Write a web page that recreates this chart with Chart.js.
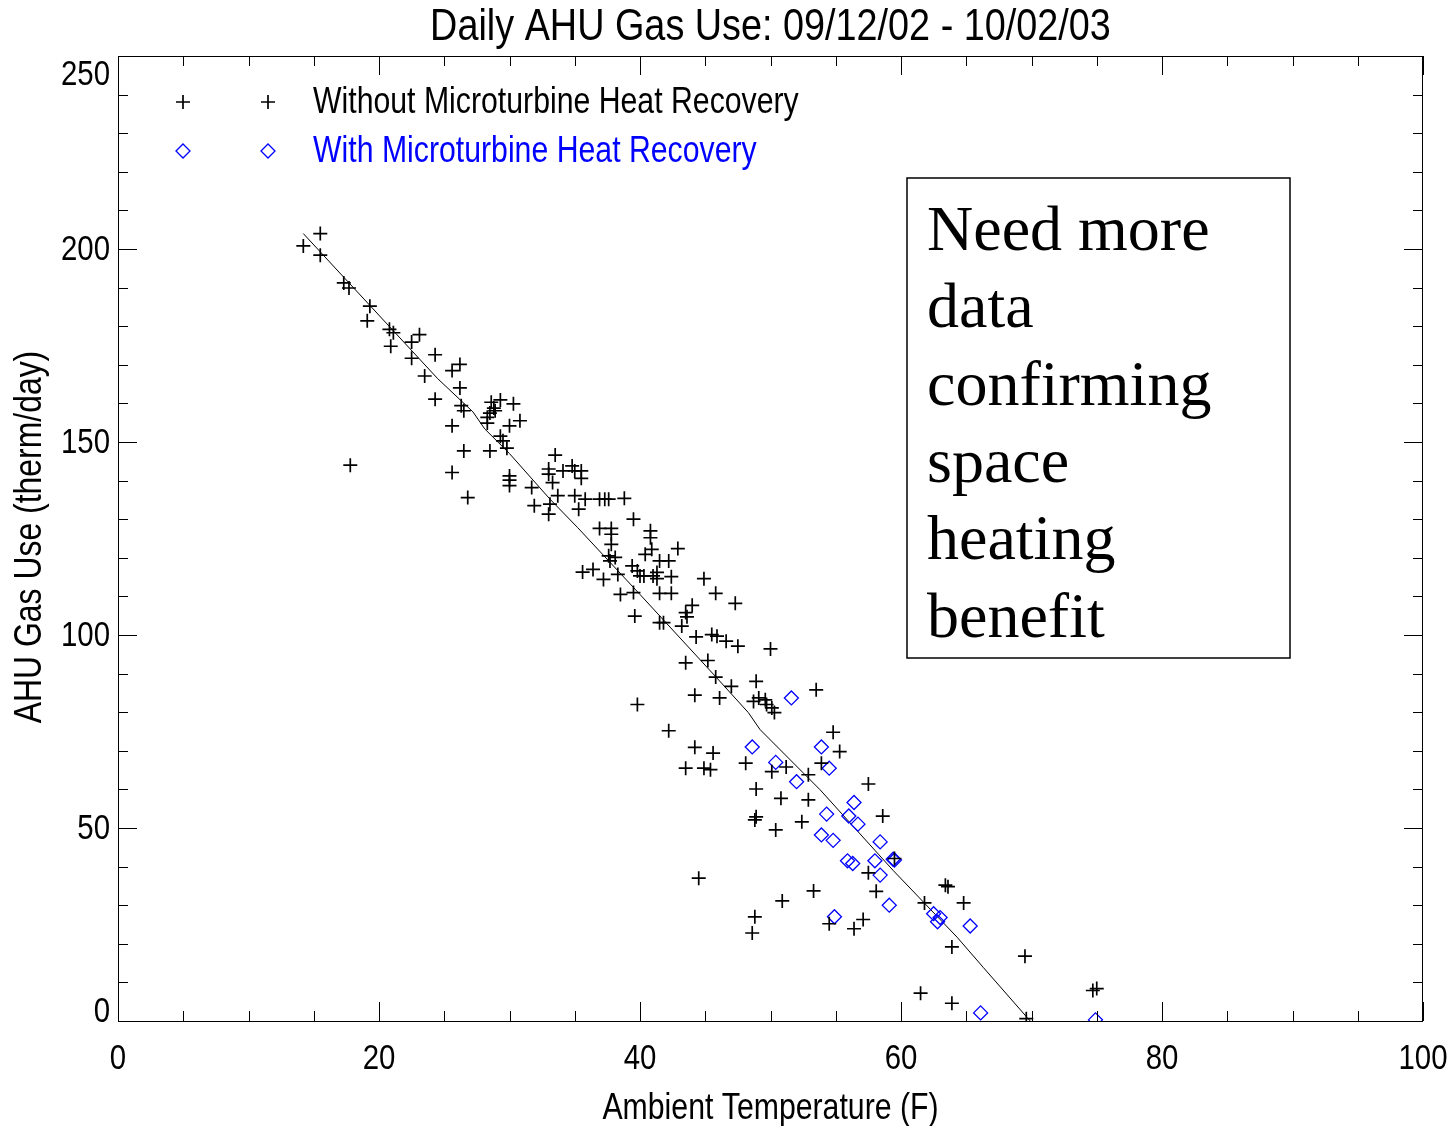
<!DOCTYPE html>
<html>
<head>
<meta charset="utf-8">
<title>Daily AHU Gas Use</title>
<script src="https://cdn.jsdelivr.net/npm/chart.js@4.4.1/dist/chart.umd.min.js"></script>
<style>
  html, body { margin: 0; padding: 0; background: #fff; }
  #wrap { width: 1455px; height: 1126px; }
</style>
</head>
<body>
<div id="wrap"><canvas id="gasChart" width="1455" height="1126"></canvas></div>
<script>
// Without microturbine heat recovery (black +)
const withoutTemp = [14.2, 15.5, 15.5, 17.3, 17.7, 19.3, 19.1, 20.8, 21.1, 20.9, 23.1, 22.5, 22.5, 24.3, 23.5, 25.6, 26.2, 26.2, 24.3, 26.3,
  26.5, 28.6, 29.3, 28.5, 28.9, 28.8, 30.3, 28.3, 28.3, 30.0, 30.8, 29.3, 29.5, 29.8, 25.6, 17.8, 26.5, 28.5, 25.6, 26.8,
  30.0, 30.0, 30.0, 31.7, 33.0, 33.0, 31.9, 33.0, 33.1, 33.5, 33.3, 34.1, 34.8, 35.0, 35.5, 35.5, 33.7, 35.0, 35.8, 35.3,
  36.9, 37.3, 37.6, 38.8, 39.5, 36.9, 37.8, 37.8, 37.8, 40.8, 40.8, 40.9, 40.4, 37.6, 37.7, 38.1, 35.6, 36.4, 37.2, 38.3,
  39.4, 39.8, 40.0, 40.3, 41.0, 38.5, 39.5, 39.6, 42.9, 41.5, 42.2, 41.3, 41.3, 42.4, 44.9, 41.5, 42.4, 45.8, 47.3, 44.0,
  43.5, 43.6, 41.5, 41.8, 43.2, 44.3, 45.5, 45.9, 46.6, 47.5, 50.0, 43.5, 45.2, 45.8, 48.9, 47.0, 44.2, 46.1, 48.7, 49.1,
  49.6, 49.7, 50.1, 50.3, 53.5, 42.2, 44.2, 45.6, 43.5, 44.9, 45.4, 48.1, 50.1, 51.2, 52.9, 48.9, 50.8, 52.9, 48.8, 48.9,
  50.4, 52.4, 44.5, 48.8, 48.6, 50.9, 53.3, 54.8, 55.3, 53.9, 57.5, 58.6, 57.5, 58.1, 59.5, 61.8, 63.4, 63.6, 64.8, 54.5,
  57.1, 56.4, 63.9, 69.5, 61.5, 63.9, 69.6, 74.7, 75.0, 39.8];
const withoutGas = [200.8, 204.0, 198.4, 191.2, 189.9, 185.2, 181.4, 179.2, 178.3, 174.8, 177.8, 175.9, 171.7, 172.6, 167.1, 168.5, 170.1, 164.0, 161.1, 159.4,
  158.1, 160.3, 160.9, 157.5, 158.1, 158.8, 159.9, 156.4, 154.9, 154.2, 155.5, 151.5, 150.3, 148.4, 154.2, 144.0, 147.7, 147.7, 142.1, 135.6,
  141.2, 140.1, 138.7, 138.2, 143.0, 141.7, 133.5, 131.3, 133.9, 146.6, 139.5, 142.5, 143.8, 142.5, 142.5, 140.6, 136.1, 136.1, 135.2, 132.6,
  135.2, 135.2, 135.2, 135.4, 130.0, 127.6, 127.6, 126.1, 123.5, 127.0, 125.2, 122.2, 120.9, 120.5, 119.2, 120.1, 116.3, 117.0, 114.4, 115.7,
  117.9, 116.6, 115.3, 115.3, 115.3, 110.5, 111.0, 104.9, 122.4, 119.2, 119.2, 116.2, 114.6, 115.1, 114.6, 110.8, 110.8, 110.8, 108.2, 107.7,
  105.8, 104.7, 103.2, 103.2, 102.3, 99.5, 100.1, 99.7, 98.4, 97.1, 96.4, 92.8, 93.4, 89.1, 88.0, 86.7, 84.4, 83.7, 82.8, 83.7,
  83.2, 82.0, 81.1, 79.9, 85.8, 75.2, 70.9, 69.4, 65.5, 65.5, 65.1, 66.8, 64.6, 65.8, 63.8, 60.1, 57.7, 57.3, 52.1, 52.9,
  49.5, 51.6, 37.0, 27.0, 22.8, 31.1, 33.7, 74.8, 69.8, 66.8, 61.4, 53.1, 38.4, 33.6, 42.1, 30.6, 35.2, 34.8, 30.6, 25.2,
  26.3, 23.9, 19.2, 16.8, 7.2, 4.6, 0.6, 7.9, 8.4, 82.0];

// With microturbine heat recovery (blue diamonds)
const withTemp = [51.6, 48.6, 50.4, 52.0, 53.9, 54.5, 56.4, 54.3, 56.0, 56.7, 53.9, 54.8, 58.4, 55.9, 56.3, 58.0, 59.4, 59.5,
  58.4, 59.1, 54.9, 62.5, 63.0, 62.8, 65.3, 66.1, 74.9];
const withGas = [83.7, 71.0, 67.0, 62.0, 71.0, 65.5, 56.6, 53.6, 53.1, 51.0, 48.2, 46.8, 46.4, 41.5, 40.8, 41.5, 41.9, 41.7,
  37.8, 30.0, 27.0, 27.8, 26.8, 25.7, 24.6, 2.1, 0.3];

// fitted line
const fitTemp = [14.2, 24.5, 27.2, 28.1, 30.0, 33.1, 35.2, 40.0, 45.8, 48.3, 49.2, 53.8, 59.4, 64.3, 66.3, 69.9];
const fitGas = [204.0, 166.4, 157.8, 153.4, 147.0, 135.2, 127.9, 110.5, 89.2, 79.9, 75.5, 59.9, 39.0, 21.7, 13.9, 0.0];

const xTicks = [0, 20, 40, 60, 80, 100];
const yTicks = [0, 50, 100, 150, 200, 250];
const xMinorStep = 5;
const yMinorStep = 10;

const chartTitle = 'Daily AHU Gas Use: 09/12/02 - 10/02/03';
const xTitle = 'Ambient Temperature (F)';
const yTitle = 'AHU Gas Use (therm/day)';
const seriesNames = ['Without Microturbine Heat Recovery', 'With Microturbine Heat Recovery'];
const noteLines = ['Need more', 'data', 'confirming', 'space', 'heating', 'benefit'];

const SANS = '"Liberation Sans", Arial, sans-serif';
const SERIF = '"Liberation Serif", "Times New Roman", serif';
const SQUEEZE = 0.84; // the original font is a bit narrow

function toPoints(xs, ys) {
    return xs.map((x, i) => ({ x: x, y: ys[i] }));
}

function drawText(ctx, str, x, y, size, align, color, angle) {
    ctx.save();
    ctx.font = size + 'px ' + SANS;
    ctx.fillStyle = color || '#000';
    ctx.textAlign = align;
    ctx.textBaseline = 'middle';
    ctx.translate(x, y);
    if (angle) ctx.rotate(angle);
    ctx.scale(SQUEEZE, 1);
    ctx.fillText(str, 0, 0);
    ctx.restore();
}

// frame, inward ticks, labels, legend and note box
const idlFrame = {
    id: 'idlFrame',
    afterDraw(chart) {
        const ctx = chart.ctx;
        const area = chart.chartArea;
        const xs = chart.scales.x;
        const ys = chart.scales.y;

        ctx.save();
        ctx.strokeStyle = '#000';
        ctx.lineWidth = 1;
        ctx.strokeRect(area.left + 0.5, area.top + 0.5, area.right - area.left - 1, area.bottom - area.top);

        ctx.beginPath();
        for (let v = xs.min; v <= xs.max; v += xMinorStep) {
            const px = Math.round(xs.getPixelForValue(v)) + 0.5;
            const len = xTicks.includes(v) ? 19 : 10;
            ctx.moveTo(px, area.bottom); ctx.lineTo(px, area.bottom - len);
            ctx.moveTo(px, area.top); ctx.lineTo(px, area.top + len);
        }
        for (let v = ys.min; v <= ys.max; v += yMinorStep) {
            const py = Math.round(ys.getPixelForValue(v)) + 0.5;
            const len = yTicks.includes(v) ? 19 : 10;
            ctx.moveTo(area.left, py); ctx.lineTo(area.left + len, py);
            ctx.moveTo(area.right, py); ctx.lineTo(area.right - len, py);
        }
        ctx.stroke();
        ctx.restore();

        xTicks.forEach(v => {
            drawText(ctx, String(v), xs.getPixelForValue(v), 1059, 35, 'center');
        });
        yTicks.forEach(v => {
            let py = ys.getPixelForValue(v);
            if (v === ys.max) py += 18;
            if (v === ys.min) py -= 10;
            drawText(ctx, String(v), 110, py + 1, 35, 'right');
        });

        const midX = (area.left + area.right) / 2;
        drawText(ctx, chartTitle, midX, 28, 45, 'center');
        drawText(ctx, xTitle, midX, 1109, 36, 'center');
        drawText(ctx, yTitle, 31, 537, 38, 'center', '#000', -Math.PI / 2);

        // legend: two symbols then the name, IDL style
        const rows = [102, 151];
        chart.data.datasets.slice(0, 2).forEach((ds, i) => {
            const opts = {
                pointStyle: ds.pointStyle,
                radius: 7,
                borderWidth: ds.borderWidth,
                rotation: 0
            };
            ctx.save();
            ctx.strokeStyle = ds.borderColor;
            ctx.fillStyle = 'rgba(0,0,0,0)';
            ctx.lineWidth = ds.borderWidth;
            Chart.helpers.drawPoint(ctx, opts, 183, rows[i]);
            Chart.helpers.drawPoint(ctx, opts, 268, rows[i]);
            ctx.restore();
            drawText(ctx, seriesNames[i], 313, rows[i] + 1, 36, 'left', ds.borderColor);
        });

        // note box
        ctx.save();
        ctx.strokeStyle = '#000';
        ctx.lineWidth = 1.5;
        ctx.strokeRect(907, 178, 383, 480);
        ctx.font = '64px ' + SERIF;
        ctx.fillStyle = '#000';
        ctx.textAlign = 'left';
        ctx.textBaseline = 'alphabetic';
        noteLines.forEach((line, i) => {
            ctx.fillText(line, 927, 250 + i * 77.3);
        });
        ctx.restore();
    }
};

const ctx = document.getElementById('gasChart').getContext('2d');
new Chart(ctx, {
    type: 'scatter',
    data: {
        datasets: [
            {
                label: seriesNames[0],
                data: toPoints(withoutTemp, withoutGas),
                pointStyle: 'cross',
                pointRadius: 7,
                borderColor: '#000000',
                backgroundColor: 'rgba(0,0,0,0)',
                borderWidth: 1.7,
                clip: 0
            },
            {
                label: seriesNames[1],
                data: toPoints(withTemp, withGas),
                pointStyle: 'rectRot',
                pointRadius: 7,
                borderColor: '#0000ff',
                backgroundColor: 'rgba(0,0,0,0)',
                borderWidth: 1.3,
                clip: 0
            },
            {
                type: 'line',
                label: 'fit',
                data: toPoints(fitTemp, fitGas),
                borderColor: '#000000',
                borderWidth: 1,
                pointRadius: 0,
                fill: false,
                tension: 0,
                clip: 0
            }
        ]
    },
    options: {
        responsive: false,
        animation: false,
        devicePixelRatio: 1,
        layout: { padding: { left: 118, right: 32, top: 56, bottom: 105 } },
        plugins: {
            legend: { display: false },
            title: { display: false },
            tooltip: { enabled: false }
        },
        scales: {
            x: { type: 'linear', min: 0, max: 100, display: false },
            y: { type: 'linear', min: 0, max: 250, display: false }
        }
    },
    plugins: [idlFrame]
});
</script>
</body>
</html>
